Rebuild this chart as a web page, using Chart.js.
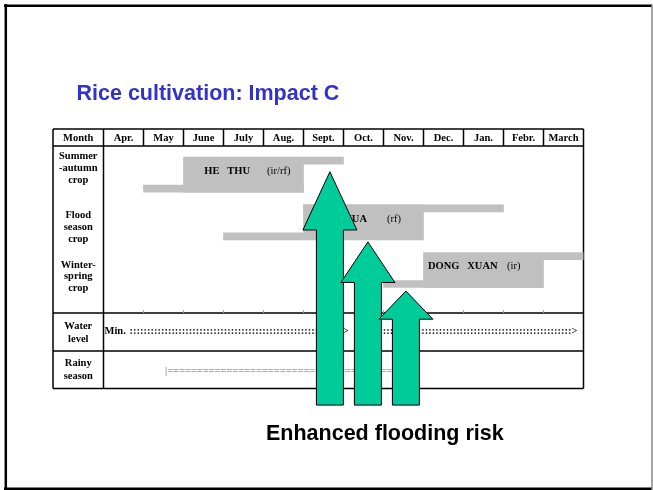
<!DOCTYPE html>
<html>
<head>
<meta charset="utf-8">
<title>Rice cultivation: Impact C</title>
<script src="https://cdn.jsdelivr.net/npm/chart.js@4.4.1/dist/chart.umd.min.js"></script>
<style>
  html, body { margin: 0; padding: 0; background: #fff; }
  canvas { display: block; }
</style>
</head>
<body>
<canvas id="chart" width="653" height="490"></canvas>
<script>
// months counted from the start of April (0) to the end of March (12)
const months = ['Apr.', 'May', 'June', 'July', 'Aug.', 'Sept.', 'Oct.', 'Nov.', 'Dec.', 'Jan.', 'Febr.', 'March'];
const crops = ['HE   THU', 'MUA', 'DONG   XUAN'];
const cropTypes = ['(ir/rf)', '(rf)', '(ir)'];
const rowLabels = [
    ['Summer', '-autumn', 'crop'],
    ['Flood', 'season', 'crop'],
    ['Winter-', 'spring', 'crop'],
    ['Water', 'level'],
    ['Rainy', 'season']
];

// main growing period of each crop [start, end]
const growing = [[2, 5], [5, 8], [8, 11]];
// thin bar under the box (seedbed / land preparation)
const nursery = [[1, 5], [3, 5], [7, 8]];
// thin bar over the box (harvest)
const harvest = [[5, 6], [5, 10], [11, 12]];

// where the crop names start, in months
const nameAt = [2.52, 5.96, 8.11];
const typeAt = [4.09, 7.09, 10.09];

// water level and rainy season spans, in months
const waterMin = [0, 6.2];
const waterRise = [6.98, 11.85];
const rainySeason = [1.54, 7.3];

// flooding arrows: centre month, tip and head base on the row scale
const arrowAt = [5.66, 6.61, 7.56];
const arrowTip = [-0.06, 1.41, 2.44];
const arrowNeck = [1.16, 2.26, 3.03];
const arrowFoot = 4.83;

const SERIF = '"Liberation Serif", "Times New Roman", serif';
const SANS = '"Liberation Sans", Arial, sans-serif';
const GREY = '#c0c0c0';
const STRIP_SHIFT = 0.293;   // thin bars hug the top / bottom edge of the box

// table frame in pixels
const table = { left: 53, top: 129, rainyTop: 351, bottom: 388.5 };
const labelMid = [168.3, 227.5, 276.7, 333, 370];

function hline(ctx, x1, x2, y) {
    ctx.beginPath();
    ctx.moveTo(x1, y);
    ctx.lineTo(x2, y);
    ctx.stroke();
}

function vline(ctx, x, y1, y2) {
    ctx.beginPath();
    ctx.moveTo(x, y1);
    ctx.lineTo(x, y2);
    ctx.stroke();
}

// fills a span with a repeated character
function fillRun(ctx, ch, x1, x2, y) {
    const w = ctx.measureText(ch).width;
    const n = Math.max(0, Math.floor((x2 - x1) / w));
    ctx.fillText(ch.repeat(n), x1, y);
    return x1 + n * w;
}

const tablePlugin = {
    id: 'table',
    beforeDatasetsDraw(chart) {
        const { ctx, chartArea: a, scales: { x } } = chart;
        ctx.save();
        ctx.strokeStyle = '#000';
        ctx.lineWidth = 1.5;

        // outer box and row separators
        hline(ctx, table.left, a.right, table.top);
        hline(ctx, table.left, a.right, a.top);
        hline(ctx, table.left, a.right, a.bottom);
        hline(ctx, table.left, a.right, table.rainyTop);
        hline(ctx, table.left, a.right, table.bottom);
        vline(ctx, table.left, table.top, table.bottom);
        vline(ctx, a.left, table.top, table.bottom);
        vline(ctx, a.right, table.top, table.bottom);

        // month columns only in the header
        for (let i = 1; i < months.length; i++) {
            vline(ctx, x.getPixelForValue(i), table.top, a.top);
        }
        ctx.strokeStyle = '#aaa';
        ctx.lineWidth = 1;
        for (let i = 1; i < months.length; i++) {
            vline(ctx, x.getPixelForValue(i), a.bottom - 3, a.bottom);
        }

        // header and row labels
        ctx.fillStyle = '#000';
        ctx.font = 'bold 10.5px ' + SERIF;
        ctx.textAlign = 'center';
        ctx.textBaseline = 'middle';
        const headMid = (table.top + a.top) / 2 + 1;
        ctx.fillText('Month', (table.left + a.left) / 2, headMid);
        months.forEach((m, i) => ctx.fillText(m, x.getPixelForValue(i + 0.5), headMid));

        rowLabels.forEach((lines, r) => {
            const lh = lines.length === 3 ? 11.8 : 12.6;
            const y0 = labelMid[r] - (lines.length - 1) * lh / 2;
            lines.forEach((t, k) => ctx.fillText(t, (table.left + a.left) / 2, y0 + k * lh));
        });

        // water level: Min. :::::> then :::::>
        const wy = 331.7;
        ctx.textAlign = 'left';
        ctx.font = 'bold 10.5px ' + SERIF;
        let px = x.getPixelForValue(waterMin[0]) + 1;
        ctx.fillText('Min.', px, wy);
        px += ctx.measureText('Min. ').width + 1;
        ctx.fillStyle = '#222';
        const gt = ctx.measureText('>').width;
        let end = fillRun(ctx, ':', px, x.getPixelForValue(waterMin[1]) - gt, wy);
        ctx.fillText('>', end, wy);
        end = fillRun(ctx, ':', x.getPixelForValue(waterRise[0]), x.getPixelForValue(waterRise[1]) - gt, wy);
        ctx.fillText('>', end, wy);

        // rainy season |=======
        const ry = 371.7;
        ctx.font = '10.5px ' + SERIF;
        ctx.fillStyle = '#666';
        px = x.getPixelForValue(rainySeason[0]);
        ctx.fillText('|', px, ry);
        fillRun(ctx, '=', px + ctx.measureText('|').width, x.getPixelForValue(rainySeason[1]), ry);
        ctx.restore();
    },
    afterDatasetsDraw(chart) {
        const { ctx, scales: { x, y } } = chart;
        ctx.save();
        ctx.fillStyle = '#000';
        ctx.textAlign = 'left';
        ctx.textBaseline = 'middle';

        // crop names inside the boxes
        crops.forEach((c, i) => {
            const cy = y.getPixelForValue(i) - 3.5;
            ctx.font = 'bold 10.5px ' + SERIF;
            ctx.fillText(c, x.getPixelForValue(nameAt[i]), cy);
            ctx.font = '10.5px ' + SERIF;
            ctx.fillText(cropTypes[i], x.getPixelForValue(typeAt[i]), cy);
        });

        // flooding arrows
        ctx.fillStyle = '#00cc99';
        ctx.strokeStyle = '#000';
        ctx.lineWidth = 1;
        ctx.lineJoin = 'miter';
        arrowAt.forEach((m, i) => {
            const cx = x.getPixelForValue(m);
            const tip = y.getPixelForValue(arrowTip[i]);
            const neck = y.getPixelForValue(arrowNeck[i]);
            const foot = y.getPixelForValue(arrowFoot);
            const sw = 13.5, hw = 27;
            ctx.beginPath();
            ctx.moveTo(cx - sw, foot);
            ctx.lineTo(cx - sw, neck);
            ctx.lineTo(cx - hw, neck);
            ctx.lineTo(cx, tip);
            ctx.lineTo(cx + hw, neck);
            ctx.lineTo(cx + sw, neck);
            ctx.lineTo(cx + sw, foot);
            ctx.closePath();
            ctx.fill();
            ctx.stroke();
        });
        ctx.restore();
    },
    afterDraw(chart) {
        const { ctx } = chart;
        ctx.save();
        // slide frame
        ctx.strokeStyle = '#000';
        ctx.lineWidth = 2.5;
        hline(ctx, 4, 652, 5.8);
        hline(ctx, 4, 652, 488.8);
        vline(ctx, 5.8, 4, 490);
        ctx.strokeStyle = '#888';
        ctx.lineWidth = 1.5;
        vline(ctx, 652, 5, 490);

        ctx.textAlign = 'left';
        ctx.textBaseline = 'alphabetic';
        ctx.font = 'bold 21.5px ' + SANS;
        ctx.fillStyle = '#3333cc';
        ctx.fillText('Rice cultivation: Impact C', 76.5, 100);
        ctx.fillStyle = '#000';
        ctx.fillText('Enhanced flooding risk', 266, 439.5);
        ctx.restore();
    }
};

function spans(list, shift) {
    return list.map((s, i) => ({ x: s, y: i + shift }));
}

new Chart(document.getElementById('chart'), {
    type: 'bar',
    data: {
        datasets: [
            { label: 'nursery', data: spans(nursery, STRIP_SHIFT), barThickness: 7 },
            { label: 'harvest', data: spans(harvest, -STRIP_SHIFT), barThickness: 7 },
            { label: 'growing', data: spans(growing, 0), barThickness: 35 }
        ]
    },
    options: {
        indexAxis: 'y',
        responsive: false,
        animation: false,
        grouped: false,
        backgroundColor: GREY,
        borderWidth: 0,
        layout: { padding: { left: 103.5, right: 69.5, top: 146, bottom: 177 } },
        scales: {
            x: { type: 'linear', min: 0, max: 12, display: false },
            y: { type: 'linear', min: -0.6, max: 2.9, reverse: true, offset: false, display: false }
        },
        plugins: {
            legend: { display: false },
            tooltip: { enabled: false }
        }
    },
    plugins: [tablePlugin]
});
</script>
</body>
</html>
